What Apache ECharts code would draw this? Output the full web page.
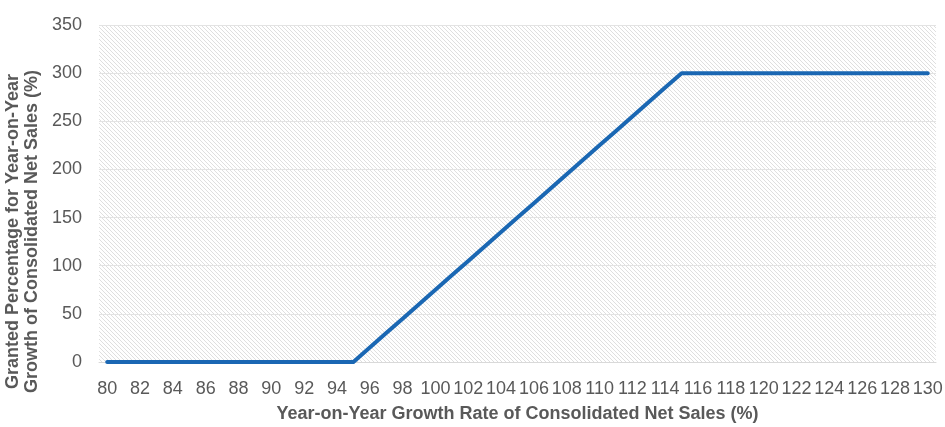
<!DOCTYPE html>
<html>
<head>
<meta charset="utf-8">
<script src="https://cdn.jsdelivr.net/npm/echarts@6/dist/echarts.min.js"></script>
<style>html,body{margin:0;padding:0;background:#fff}#c{width:945px;height:427px}</style>
</head>
<body>
<div id="c"></div>
<script>
const categories = [];
for (let v = 80; v <= 130; v++) categories.push(String(v));
const grantedValues = [
  0,0,0,0,0,0,0,0,0,0,0,0,0,0,0,0,        // 80-95
  15,30,45,60,75,90,105,120,135,150,       // 96-105
  165,180,195,210,225,240,255,270,285,300, // 106-115
  300,300,300,300,300,300,300,300,300,300,300,300,300,300,300 // 116-130
];
const yTicks = [0, 350, 50]; // min, max, interval

const tile = document.createElement('canvas');
tile.width = 4; tile.height = 4;
const tc = tile.getContext('2d');
tc.fillStyle = '#ffffff'; tc.fillRect(0,0,4,4);
tc.fillStyle = '#dfdfdf';
for (let x = 0; x < 4; x++) { tc.fillRect(x, x, 1, 1); }

const chart = echarts.init(document.getElementById('c'));
chart.setOption({
  animation: false,
  grid: { left: 99, right: 9, top: 25, bottom: 65, show: true, borderWidth: 0,
          containLabel: false, outerBoundsMode: 'none',
          backgroundColor: { image: tile, repeat: 'repeat' } },
  xAxis: {
    type: 'category', data: categories, boundaryGap: true,
    name: 'Year-on-Year Growth Rate of Consolidated Net Sales (%)',
    nameLocation: 'middle', nameGap: 43,
    nameTextStyle: { color: '#595959', fontSize: 18, fontWeight: 'bold', fontFamily: 'Liberation Sans' },
    axisLine: { lineStyle: { color: '#d9d9d9', width: 1 } },
    axisTick: { show: false },
    axisLabel: { interval: 1, color: '#595959', fontSize: 18, margin: 18, fontFamily: 'Liberation Sans' }
  },
  yAxis: {
    type: 'value', min: yTicks[0], max: yTicks[1], interval: yTicks[2],
    name: 'Granted Percentage for Year-on-Year\nGrowth of Consolidated Net Sales (%)',
    nameLocation: 'middle', nameGap: 49, nameRotate: 90,
    nameTextStyle: { color: '#595959', fontSize: 18, fontWeight: 'bold', lineHeight: 19,
                     fontFamily: 'Liberation Sans', padding: [0, 76, 0, 0] },
    axisLine: { show: false }, axisTick: { show: false },
    axisLabel: { color: '#595959', fontSize: 18, margin: 17, fontFamily: 'Liberation Sans' },
    splitLine: { lineStyle: { color: '#e3e3e3', width: 1 } }
  },
  series: [{
    type: 'line', data: grantedValues, symbol: 'none',
    lineStyle: { color: '#1a67b3', width: 4, cap: 'round', join: 'round' }
  }]
});
</script>
</body>
</html>
